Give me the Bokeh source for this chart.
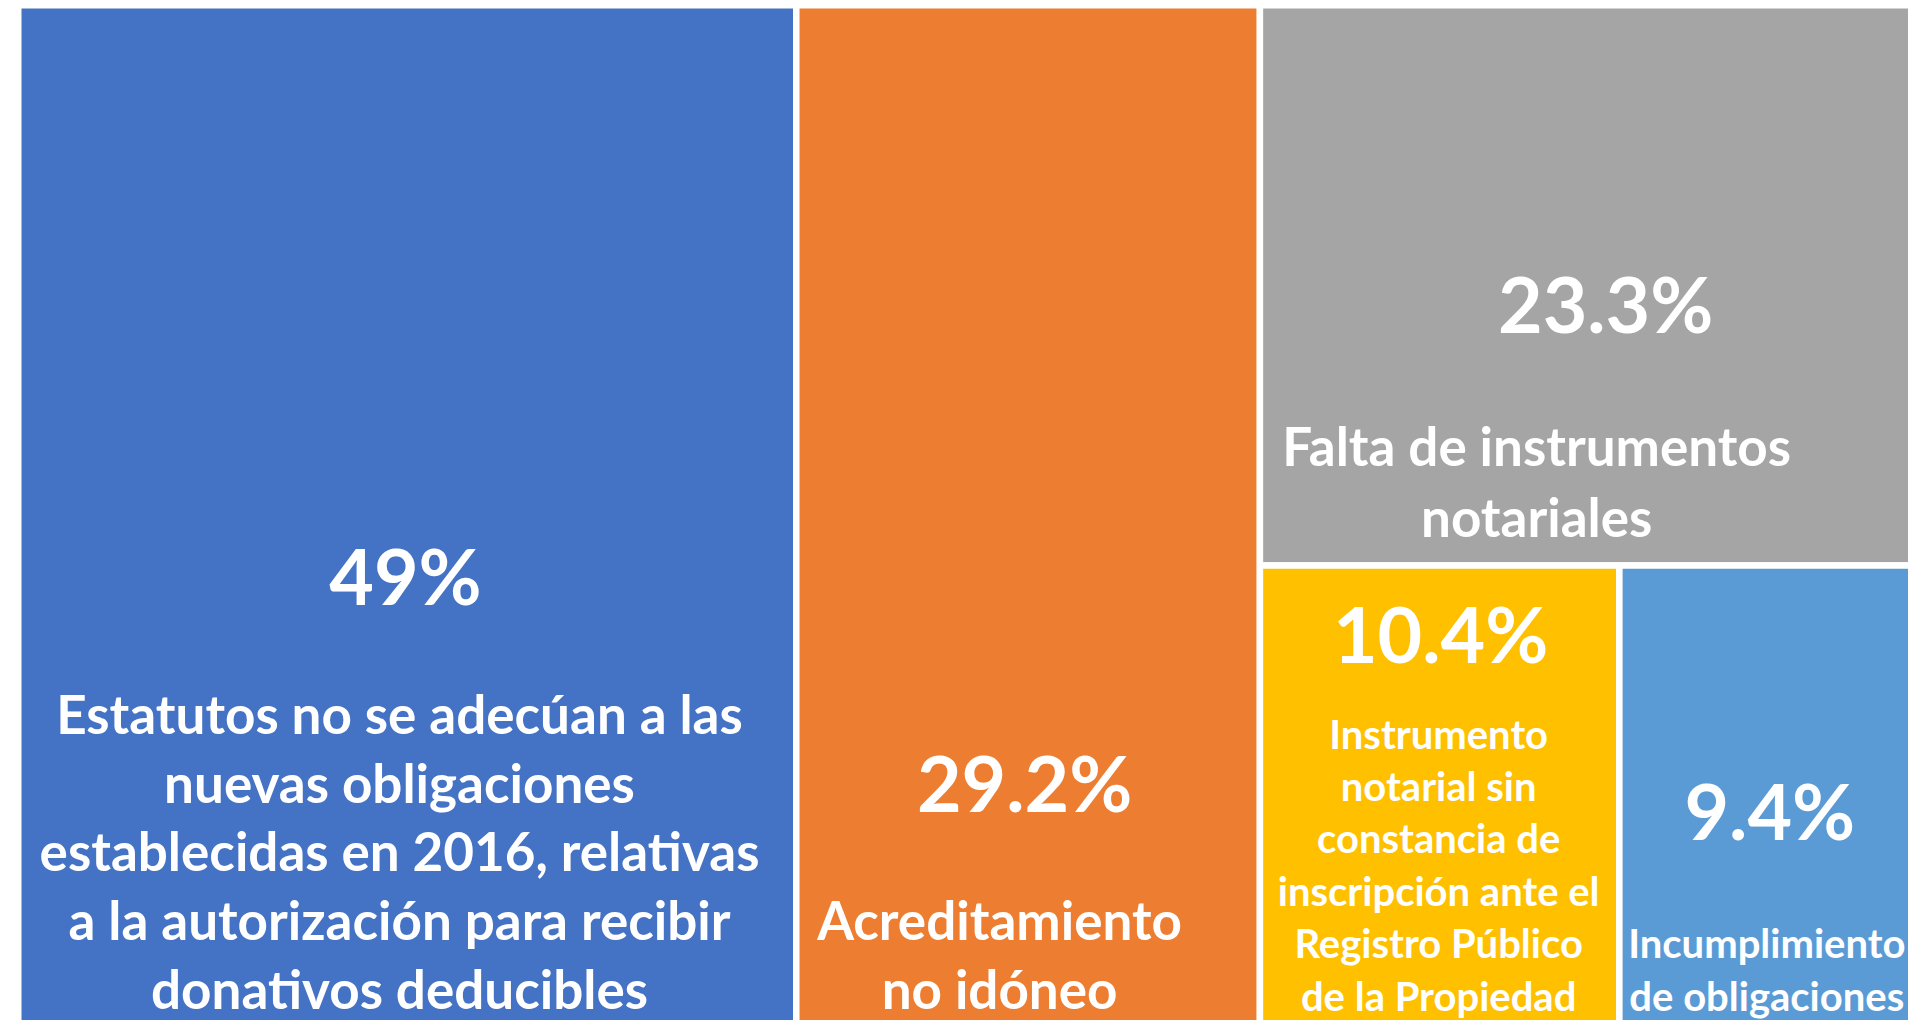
from bokeh.plotting import figure
from bokeh.models import Range1d, ColumnDataSource
from bokeh.core.properties import value
from bokeh.embed import file_html
from bokeh.resources import INLINE

# ---------------- data ----------------
categories = [
    "Estatutos no se adecúan a las nuevas obligaciones establecidas en 2016, relativas a la autorización para recibir donativos deducibles",
    "Acreditamiento no idóneo",
    "Falta de instrumentos notariales",
    "Instrumento notarial sin constancia de inscripción ante el Registro Público de la Propiedad",
    "Incumplimiento de obligaciones",
]
values = [49, 29.2, 23.3, 10.4, 9.4]
value_labels = ["49%", "29.2%", "23.3%", "10.4%", "9.4%"]
label_lines = [
    ["Estatutos no se adecúan a las", "nuevas obligaciones", "establecidas en 2016, relativas",
     "a la autorización para recibir", "donativos deducibles"],
    ["Acreditamiento", "no idóneo"],
    ["Falta de instrumentos", "notariales"],
    ["Instrumento", "notarial sin", "constancia de", "inscripción ante el",
     "Registro Público", "de la Propiedad"],
    ["Incumplimiento", "de obligaciones"],
]
colors = ["#4472C4", "#ED7D31", "#A5A5A5", "#FFC000", "#5B9BD5"]

# ---------------- layout (slice & dice treemap) ----------------
right_group = values[2] + values[3] + values[4]
bottom_group = values[3] + values[4]

left, right, top, bottom = [], [], [], []
x = 0.0
for v in values[:2]:
    left.append(x); right.append(x + v); top.append(1.0); bottom.append(0.0)
    x += v
gx0, gx1 = x, x + right_group
ysplit = 1.0 - values[2] / right_group
left.append(gx0); right.append(gx1); top.append(1.0); bottom.append(ysplit)
bx = gx0
for v in values[3:]:
    w = right_group * v / bottom_group
    left.append(bx); right.append(bx + w); top.append(ysplit); bottom.append(0.0)
    bx += w

W, H = 1908, 1020
px_per_x = 15.878          # screen px per value unit
px_col = 1036.4            # screen px for the full column height
x0_px, y0_px = 17.75, 4.75  # screen position of the treemap's top-left corner
x_start = -x0_px / px_per_x
y_end = 1.0 + y0_px / px_col

p = figure(width=W, height=H, output_backend="svg", toolbar_location=None,
           x_range=Range1d(x_start, x_start + W / px_per_x),
           y_range=Range1d(y_end - H / px_col, y_end),
           min_border=0, outline_line_color=None, background_fill_color="white",
           border_fill_color="white")
p.axis.visible = False
p.grid.visible = False

p.quad(left=left, right=right, top=top, bottom=bottom, fill_color=colors,
       line_color="white", line_width=6.5)

# ---------------- text ----------------
def top_px(i):
    return y0_px + (1.0 - top[i]) * px_col

num_fs = 77
lab_fs = [53, 53, 53, 40, 40]
num_dx = [-1.75, -3.5, 3.6, 1, -12]
lab_dx = [-7.75, -28.5, -65.4, -1, -15]
num_base = [605, 812, 333, 663, 840]          # target baselines (screen px)
lab_base0 = [734, 940.25, 466, 749, 958.6]
lab_step = [68.75, 68.75, 71, 52.4, 52.4]
K = 0.4

nx, ny, nt, nxo, nyo, ns = [], [], [], [], [], []
lx, ly, lt, lxo, lyo, ls = [], [], [], [], [], []
for i in range(len(values)):
    cx = (left[i] + right[i]) / 2
    tp = top_px(i)
    nx.append(cx); ny.append(top[i]); nt.append(value_labels[i])
    nxo.append(num_dx[i]); nyo.append(num_base[i] - tp - K * num_fs); ns.append(f"{num_fs}px")
    for k, line in enumerate(label_lines[i]):
        lx.append(cx); ly.append(top[i]); lt.append(line)
        lxo.append(lab_dx[i])
        lyo.append(lab_base0[i] + k * lab_step[i] - tp - K * lab_fs[i])
        ls.append(f"{lab_fs[i]}px")

nsrc = ColumnDataSource(dict(x=nx, y=ny, text=nt, xo=nxo, yo=nyo, fs=ns))
lsrc = ColumnDataSource(dict(x=lx, y=ly, text=lt, xo=lxo, yo=lyo, fs=ls))

for src in (nsrc, lsrc):
    p.text(x="x", y="y", text="text", x_offset="xo", y_offset="yo", text_font_size="fs",
           text_font=value("Lato"), text_font_style="bold", text_color="white",
           text_align="center", text_baseline="alphabetic", source=src)

open("out.html", "w").write(file_html(p, INLINE))
